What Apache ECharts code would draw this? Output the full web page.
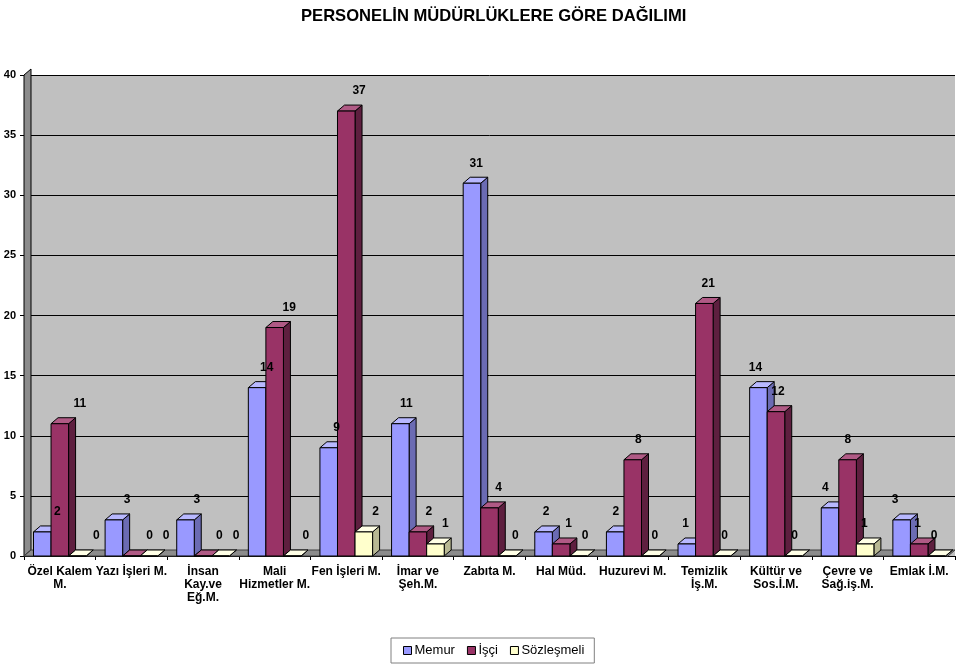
<!DOCTYPE html>
<html>
<head>
<meta charset="utf-8">
<script src="https://cdn.jsdelivr.net/npm/echarts@6/dist/echarts.min.js"></script>
<style>
  html, body { margin: 0; padding: 0; background: #ffffff; }
  #chart { width: 960px; height: 666px; }
</style>
</head>
<body>
<div id="chart"></div>
<script>
const categories = [
  'Özel Kalem\nM.', 'Yazı İşleri M.', 'İnsan\nKay.ve\nEğ.M.', 'Mali\nHizmetler M.',
  'Fen İşleri M.', 'İmar ve\nŞeh.M.', 'Zabıta M.', 'Hal Müd.', 'Huzurevi M.',
  'Temizlik\nİş.M.', 'Kültür ve\nSos.İ.M.', 'Çevre ve\nSağ.iş.M.', 'Emlak İ.M.'
];
const memur = [2, 3, 3, 14, 9, 11, 31, 2, 2, 1, 14, 4, 3];
const isci = [11, 0, 0, 19, 37, 2, 4, 1, 8, 21, 12, 8, 1];
const sozlesmeli = [0, 0, 0, 0, 2, 1, 0, 0, 0, 0, 0, 1, 0];
const yTicks = [0, 5, 10, 15, 20, 25, 30, 35, 40];

const chart = echarts.init(document.getElementById('chart'));

// front, side, top colours for each series; lblDx = label shift at the first category
const looks = [
  { name: 'Memur', data: memur, slot: -1, lblDx: 15, front: '#9999FF', side: '#6B6BB3', top: '#B8B8FF' },
  { name: 'İşçi', data: isci, slot: 0, lblDx: 20, front: '#993366', side: '#5E1F3F', top: '#B05A85' },
  { name: 'Sözleşmeli', data: sozlesmeli, slot: 1, lblDx: 19, front: '#FFFFCC', side: '#B8B893', top: '#FFFFE6' }
];

const depth = [7, -6];

function barGeom(params, api, slot) {
  const idx = api.value(0);
  const val = api.value(1);
  const base = api.coord([idx, 0]);
  const top = api.coord([idx, val]);
  const band = api.size([1, 0])[0];
  const w = band * 0.245;
  const x = base[0] + slot * w - w / 2;
  return { idx, val, x, w, ty: top[1], by: base[1] };
}

function makeBarSeries(s, i) {
  return {
    name: s.name,
    type: 'custom',
    z: 2 + i,
    itemStyle: { color: s.front },
    data: s.data.map((v, k) => [k, v]),
    renderItem: (params, api) => {
      const g = barGeom(params, api, s.slot);
      const dx = depth[0], dy = depth[1];
      const stroke = { stroke: '#000', lineWidth: 1 };
      return {
        type: 'group',
        children: [
          {
            type: 'polygon',
            shape: { points: [[g.x + g.w, g.ty], [g.x + g.w + dx, g.ty + dy], [g.x + g.w + dx, g.by + dy], [g.x + g.w, g.by]] },
            style: Object.assign({ fill: s.side }, stroke)
          },
          {
            type: 'polygon',
            shape: { points: [[g.x, g.ty], [g.x + dx, g.ty + dy], [g.x + g.w + dx, g.ty + dy], [g.x + g.w, g.ty]] },
            style: Object.assign({ fill: s.top }, stroke)
          },
          {
            type: 'rect',
            shape: { x: g.x, y: g.ty, width: g.w, height: g.by - g.ty },
            style: Object.assign({ fill: s.front }, stroke)
          }
        ]
      };
    }
  };
}

function makeLabelSeries(s) {
  return {
    name: s.name + '_lbl',
    type: 'custom',
    z: 10,
    silent: true,
    data: s.data.map((v, k) => [k, v]),
    renderItem: (params, api) => {
      const g = barGeom(params, api, s.slot);
      // labels drift left across the chart like the perspective in the original
      const ldx = s.lblDx - 1.8 * g.idx;
      return {
        type: 'text',
        style: {
          x: g.x + g.w / 2 + ldx,
          y: g.ty - 20,
          text: String(g.val),
          fill: '#000',
          font: 'bold 12px "Liberation Sans", Arial, sans-serif',
          align: 'center',
          verticalAlign: 'middle'
        }
      };
    }
  };
}

const option = {
  backgroundColor: '#ffffff',
  animation: false,
  textStyle: { fontFamily: '"Liberation Sans", Arial, sans-serif' },
  title: {
    text: 'PERSONELİN MÜDÜRLÜKLERE GÖRE DAĞILIMI',
    left: 296,
    top: 3,
    textStyle: { color: '#000', fontSize: 16.6, fontWeight: 'bold' }
  },
  legend: {
    data: looks.map(s => s.name),
    left: 391,
    top: 638,
    padding: [6, 10, 6, 12],
    itemGap: 12,
    itemWidth: 8,
    itemHeight: 8,
    icon: 'rect',
    borderColor: '#808080',
    borderWidth: 1,
    itemStyle: { borderColor: '#000', borderWidth: 1 },
    textStyle: { color: '#000', fontSize: 13, padding: [0, 0, 0, -2] }
  },
  grid: {
    left: 24,
    right: 5,
    top: 75,
    bottom: 110,
    show: true,
    backgroundColor: '#C0C0C0',
    borderWidth: 0
  },
  graphic: [
    {
      type: 'polygon',
      z: 1,
      shape: { points: [[24, 556], [24, 75], [31, 69], [31, 550]] },
      style: { fill: '#8C8C8C', stroke: '#000', lineWidth: 1 }
    },
    {
      type: 'polygon',
      z: 1,
      shape: { points: [[24, 556], [31, 550], [955, 550], [948, 556]] },
      style: { fill: '#8C8C8C', stroke: '#404040', lineWidth: 1 }
    }
  ],
  xAxis: {
    type: 'category',
    data: categories,
    boundaryGap: true,
    axisLine: { show: true, lineStyle: { color: '#000', width: 1 } },
    axisTick: { show: true, length: 4, lineStyle: { color: '#000' } },
    axisLabel: {
      interval: 0,
      color: '#000',
      fontSize: 12,
      fontWeight: 'bold',
      lineHeight: 13,
      margin: 9
    }
  },
  yAxis: {
    type: 'value',
    min: yTicks[0],
    max: yTicks[yTicks.length - 1],
    interval: 5,
    axisLine: { show: true, lineStyle: { color: '#000', width: 1 } },
    axisTick: { show: true, length: 4, lineStyle: { color: '#000' } },
    axisLabel: { color: '#000', fontSize: 11, fontWeight: 'bold', margin: 8 },
    splitLine: { show: true, lineStyle: { color: '#000', width: 1 } }
  },
  series: looks.map(makeBarSeries).concat(looks.map(makeLabelSeries))
};

chart.setOption(option);
</script>
</body>
</html>
